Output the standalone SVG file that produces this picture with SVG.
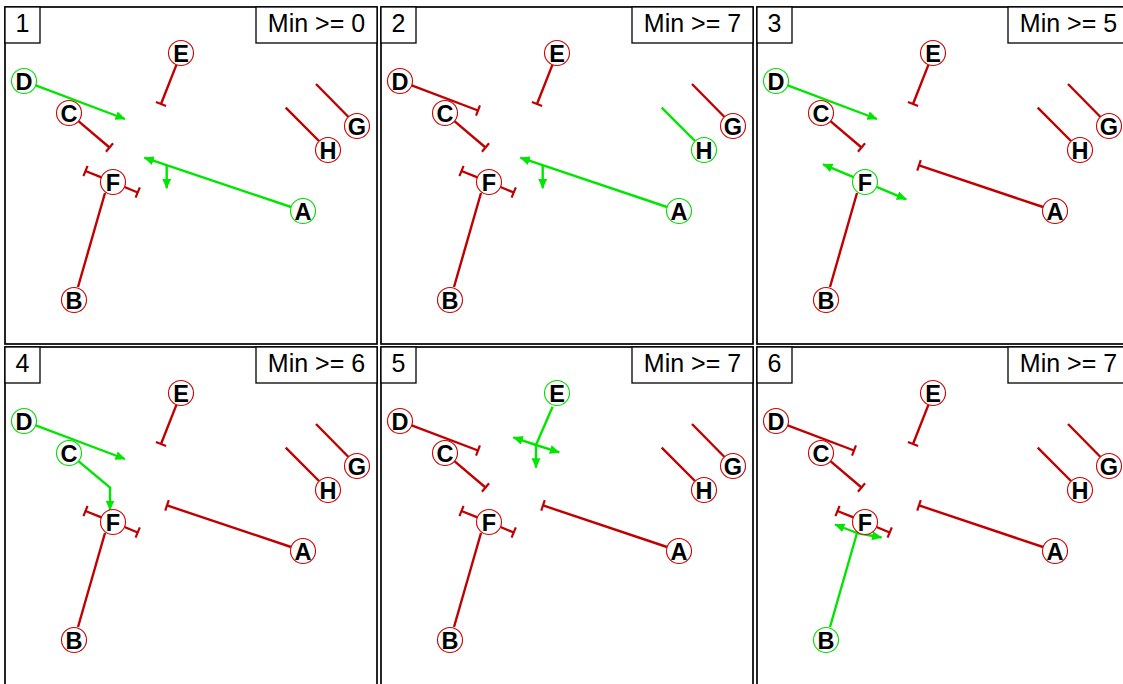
<svg xmlns="http://www.w3.org/2000/svg" width="1123" height="684" viewBox="0 0 1123 684">
<style>
.frame{fill:none;stroke:#000;stroke-width:1.7}
.lbl{fill:#fff;stroke:#000;stroke-width:1.3}
.lt{font-family:"Liberation Sans",Arial,sans-serif;font-size:25px;text-anchor:middle;fill:#000}
.n circle{fill:#fff;stroke-width:1.1}
.n text{font-family:"Liberation Sans",Arial,sans-serif;font-weight:bold;font-size:23.5px;text-anchor:middle;fill:#000}
.nr circle{stroke:#d00000}
.ng circle{stroke:#00dd00}
.er{stroke:#c00000;stroke-width:2.4;fill:none}
.eg{stroke:#00e600;stroke-width:2.4;fill:none}
.ti{marker-end:url(#tbar)}
.ar{marker-end:url(#arrow)}
</style>
<defs>
<marker id="arrow" viewBox="0 0 10 9" refX="9.5" refY="4.5" markerWidth="10" markerHeight="9" markerUnits="userSpaceOnUse" orient="auto"><path d="M0,0L10,4.5L0,9z" fill="#00e600"/></marker>
<marker id="tbar" viewBox="-2 -6 4 12" refX="0" refY="0" markerWidth="4" markerHeight="12" markerUnits="userSpaceOnUse" orient="auto"><path d="M0,-5.5V5.5" stroke="#c00000" stroke-width="2.2"/></marker>
</defs>
<rect width="1123" height="684" fill="#fff"/>

<!-- Panel 1 -->
<g id="panel1">
<rect class="frame" x="5" y="7" width="372" height="337"/>
<rect class="lbl" x="5" y="7" width="35" height="36"/><text class="lt" x="22.5" y="32">1</text>
<rect class="lbl" x="256" y="7" width="121" height="36"/><text class="lt" x="316.5" y="32">Min &gt;= 0</text>
<g id="p1-connectors">
<path class="er ti" d="M176.5,64.6L161,104"/>
<path class="eg ar" d="M35.7,85.4L125,119"/>
<path class="er ti" d="M78.4,121.2L109.5,147.5"/>
<path class="er ti" d="M101.4,177.4L85.5,171"/>
<path class="er ti" d="M124.5,187L137.7,192.5"/>
<path class="er" d="M78,287L105,193"/>
<path class="eg ar" d="M291,207L144.3,157.7"/>
<path class="eg ar" d="M166.7,165L166.7,188.3"/>
<path class="er" d="M319,141L285.7,107.7"/>
<path class="er" d="M348.5,117L316,84"/>
</g>
<g id="p1-A" class="n ng"><circle cx="303" cy="211" r="12.5"/><text x="303" y="219.5">A</text></g>
<g id="p1-B" class="n nr"><circle cx="74" cy="300" r="12.5"/><text x="74" y="308.5">B</text></g>
<g id="p1-C" class="n nr"><circle cx="69" cy="113" r="12.5"/><text x="69" y="121.5">C</text></g>
<g id="p1-D" class="n ng"><circle cx="24" cy="81" r="12.5"/><text x="24" y="89.5">D</text></g>
<g id="p1-E" class="n nr"><circle cx="181" cy="53" r="12.5"/><text x="181" y="61.5">E</text></g>
<g id="p1-F" class="n nr"><circle cx="113" cy="182" r="12.5"/><text x="113" y="190.5">F</text></g>
<g id="p1-G" class="n nr"><circle cx="357" cy="126" r="12.5"/><text x="357" y="134.5">G</text></g>
<g id="p1-H" class="n nr"><circle cx="328" cy="150" r="12.5"/><text x="328" y="158.5">H</text></g>
</g>

<!-- Panel 2 -->
<g id="panel2" transform="translate(376,0)">
<rect class="frame" x="5" y="7" width="372" height="337"/>
<rect class="lbl" x="5" y="7" width="35" height="36"/><text class="lt" x="22.5" y="32">2</text>
<rect class="lbl" x="256" y="7" width="121" height="36"/><text class="lt" x="316.5" y="32">Min &gt;= 7</text>
<g id="p2-connectors">
<path class="er ti" d="M176.5,64.6L161,104"/>
<path class="er ti" d="M35.7,85.4L102,110.5"/>
<path class="er ti" d="M78.4,121.2L109.5,147.5"/>
<path class="er ti" d="M101.4,177.4L85.5,171"/>
<path class="er ti" d="M124.5,187L137.7,192.5"/>
<path class="er" d="M78,287L105,193"/>
<path class="eg ar" d="M291,207L144.3,157.7"/>
<path class="eg ar" d="M166.7,165L166.7,188.3"/>
<path class="eg" d="M319,141L285.7,107.7"/>
<path class="er" d="M348.5,117L316,84"/>
</g>
<g id="p2-A" class="n ng"><circle cx="303" cy="211" r="12.5"/><text x="303" y="219.5">A</text></g>
<g id="p2-B" class="n nr"><circle cx="74" cy="300" r="12.5"/><text x="74" y="308.5">B</text></g>
<g id="p2-C" class="n nr"><circle cx="69" cy="113" r="12.5"/><text x="69" y="121.5">C</text></g>
<g id="p2-D" class="n nr"><circle cx="24" cy="81" r="12.5"/><text x="24" y="89.5">D</text></g>
<g id="p2-E" class="n nr"><circle cx="181" cy="53" r="12.5"/><text x="181" y="61.5">E</text></g>
<g id="p2-F" class="n nr"><circle cx="113" cy="182" r="12.5"/><text x="113" y="190.5">F</text></g>
<g id="p2-G" class="n nr"><circle cx="357" cy="126" r="12.5"/><text x="357" y="134.5">G</text></g>
<g id="p2-H" class="n ng"><circle cx="328" cy="150" r="12.5"/><text x="328" y="158.5">H</text></g>
</g>

<!-- Panel 3 -->
<g id="panel3" transform="translate(752,0)">
<rect class="frame" x="5" y="7" width="372" height="337"/>
<rect class="lbl" x="5" y="7" width="35" height="36"/><text class="lt" x="22.5" y="32">3</text>
<rect class="lbl" x="256" y="7" width="121" height="36"/><text class="lt" x="316.5" y="32">Min &gt;= 5</text>
<g id="p3-connectors">
<path class="er ti" d="M176.5,64.6L161,104"/>
<path class="eg ar" d="M35.7,85.4L125,119"/>
<path class="er ti" d="M78.4,121.2L109.5,147.5"/>
<path class="eg ar" d="M101.5,177.2L71,164.3"/>
<path class="eg ar" d="M124.5,186.8L154.3,199.3"/>
<path class="er" d="M78,287L105,193"/>
<path class="er ti" d="M291,207L167,165.4"/>
<path class="er" d="M319,141L285.7,107.7"/>
<path class="er" d="M348.5,117L316,84"/>
</g>
<g id="p3-A" class="n nr"><circle cx="303" cy="211" r="12.5"/><text x="303" y="219.5">A</text></g>
<g id="p3-B" class="n nr"><circle cx="74" cy="300" r="12.5"/><text x="74" y="308.5">B</text></g>
<g id="p3-C" class="n nr"><circle cx="69" cy="113" r="12.5"/><text x="69" y="121.5">C</text></g>
<g id="p3-D" class="n ng"><circle cx="24" cy="81" r="12.5"/><text x="24" y="89.5">D</text></g>
<g id="p3-E" class="n nr"><circle cx="181" cy="53" r="12.5"/><text x="181" y="61.5">E</text></g>
<g id="p3-F" class="n ng"><circle cx="113" cy="182" r="12.5"/><text x="113" y="190.5">F</text></g>
<g id="p3-G" class="n nr"><circle cx="357" cy="126" r="12.5"/><text x="357" y="134.5">G</text></g>
<g id="p3-H" class="n nr"><circle cx="328" cy="150" r="12.5"/><text x="328" y="158.5">H</text></g>
</g>

<!-- Panel 4 -->
<g id="panel4" transform="translate(0,340)">
<rect class="frame" x="5" y="7" width="372" height="345"/>
<rect class="lbl" x="5" y="7" width="35" height="36"/><text class="lt" x="22.5" y="32">4</text>
<rect class="lbl" x="256" y="7" width="121" height="36"/><text class="lt" x="316.5" y="32">Min &gt;= 6</text>
<g id="p4-connectors">
<path class="er ti" d="M176.5,64.6L161,104"/>
<path class="eg ar" d="M35.7,85.4L125,119"/>
<path class="eg ar" d="M78.4,121.2L110,147.5L110,170"/>
<path class="er ti" d="M101.4,177.4L85.5,171"/>
<path class="er ti" d="M124.5,187L137.7,192.5"/>
<path class="er" d="M78,287L105,193"/>
<path class="er ti" d="M291,207L167,165.4"/>
<path class="er" d="M319,141L285.7,107.7"/>
<path class="er" d="M348.5,117L316,84"/>
</g>
<g id="p4-A" class="n nr"><circle cx="303" cy="211" r="12.5"/><text x="303" y="219.5">A</text></g>
<g id="p4-B" class="n nr"><circle cx="74" cy="300" r="12.5"/><text x="74" y="308.5">B</text></g>
<g id="p4-C" class="n ng"><circle cx="69" cy="113" r="12.5"/><text x="69" y="121.5">C</text></g>
<g id="p4-D" class="n ng"><circle cx="24" cy="81" r="12.5"/><text x="24" y="89.5">D</text></g>
<g id="p4-E" class="n nr"><circle cx="181" cy="53" r="12.5"/><text x="181" y="61.5">E</text></g>
<g id="p4-F" class="n nr"><circle cx="113" cy="182" r="12.5"/><text x="113" y="190.5">F</text></g>
<g id="p4-G" class="n nr"><circle cx="357" cy="126" r="12.5"/><text x="357" y="134.5">G</text></g>
<g id="p4-H" class="n nr"><circle cx="328" cy="150" r="12.5"/><text x="328" y="158.5">H</text></g>
</g>

<!-- Panel 5 -->
<g id="panel5" transform="translate(376,340)">
<rect class="frame" x="5" y="7" width="372" height="345"/>
<rect class="lbl" x="5" y="7" width="35" height="36"/><text class="lt" x="22.5" y="32">5</text>
<rect class="lbl" x="256" y="7" width="121" height="36"/><text class="lt" x="316.5" y="32">Min &gt;= 7</text>
<g id="p5-connectors">
<path class="eg" d="M176.6,66.7L160,105"/>
<path class="eg ar" d="M160,105L137.3,97.3"/>
<path class="eg ar" d="M160,105L183.3,112.3"/>
<path class="eg ar" d="M160,105L160,127.7"/>
<path class="er ti" d="M35.7,85.4L102,110.5"/>
<path class="er ti" d="M78.4,121.2L109.5,147.5"/>
<path class="er ti" d="M101.4,177.4L85.5,171"/>
<path class="er ti" d="M124.5,187L137.7,192.5"/>
<path class="er" d="M78,287L105,193"/>
<path class="er ti" d="M291,207L167,165.4"/>
<path class="er" d="M319,141L285.7,107.7"/>
<path class="er" d="M348.5,117L316,84"/>
</g>
<g id="p5-A" class="n nr"><circle cx="303" cy="211" r="12.5"/><text x="303" y="219.5">A</text></g>
<g id="p5-B" class="n nr"><circle cx="74" cy="300" r="12.5"/><text x="74" y="308.5">B</text></g>
<g id="p5-C" class="n nr"><circle cx="69" cy="113" r="12.5"/><text x="69" y="121.5">C</text></g>
<g id="p5-D" class="n nr"><circle cx="24" cy="81" r="12.5"/><text x="24" y="89.5">D</text></g>
<g id="p5-E" class="n ng"><circle cx="181" cy="53" r="12.5"/><text x="181" y="61.5">E</text></g>
<g id="p5-F" class="n nr"><circle cx="113" cy="182" r="12.5"/><text x="113" y="190.5">F</text></g>
<g id="p5-G" class="n nr"><circle cx="357" cy="126" r="12.5"/><text x="357" y="134.5">G</text></g>
<g id="p5-H" class="n nr"><circle cx="328" cy="150" r="12.5"/><text x="328" y="158.5">H</text></g>
</g>

<!-- Panel 6 -->
<g id="panel6" transform="translate(752,340)">
<rect class="frame" x="5" y="7" width="372" height="345"/>
<rect class="lbl" x="5" y="7" width="35" height="36"/><text class="lt" x="22.5" y="32">6</text>
<rect class="lbl" x="256" y="7" width="121" height="36"/><text class="lt" x="316.5" y="32">Min &gt;= 7</text>
<g id="p6-connectors">
<path class="er ti" d="M176.5,64.6L161,104"/>
<path class="er ti" d="M35.7,85.4L102,110.5"/>
<path class="er ti" d="M78.4,121.2L109.5,147.5"/>
<path class="er ti" d="M101.4,177.4L85.5,171"/>
<path class="er ti" d="M124.5,187L137.7,192.5"/>
<path class="eg" d="M78,287L105,193"/>
<path class="eg ar" d="M105,193L83,184.5"/>
<path class="eg ar" d="M105,193L129.5,197.5"/>
<path class="er ti" d="M291,207L167,165.4"/>
<path class="er" d="M319,141L285.7,107.7"/>
<path class="er" d="M348.5,117L316,84"/>
</g>
<g id="p6-A" class="n nr"><circle cx="303" cy="211" r="12.5"/><text x="303" y="219.5">A</text></g>
<g id="p6-B" class="n ng"><circle cx="74" cy="300" r="12.5"/><text x="74" y="308.5">B</text></g>
<g id="p6-C" class="n nr"><circle cx="69" cy="113" r="12.5"/><text x="69" y="121.5">C</text></g>
<g id="p6-D" class="n nr"><circle cx="24" cy="81" r="12.5"/><text x="24" y="89.5">D</text></g>
<g id="p6-E" class="n nr"><circle cx="181" cy="53" r="12.5"/><text x="181" y="61.5">E</text></g>
<g id="p6-F" class="n nr"><circle cx="113" cy="182" r="12.5"/><text x="113" y="190.5">F</text></g>
<g id="p6-G" class="n nr"><circle cx="357" cy="126" r="12.5"/><text x="357" y="134.5">G</text></g>
<g id="p6-H" class="n nr"><circle cx="328" cy="150" r="12.5"/><text x="328" y="158.5">H</text></g>
</g>
</svg>
